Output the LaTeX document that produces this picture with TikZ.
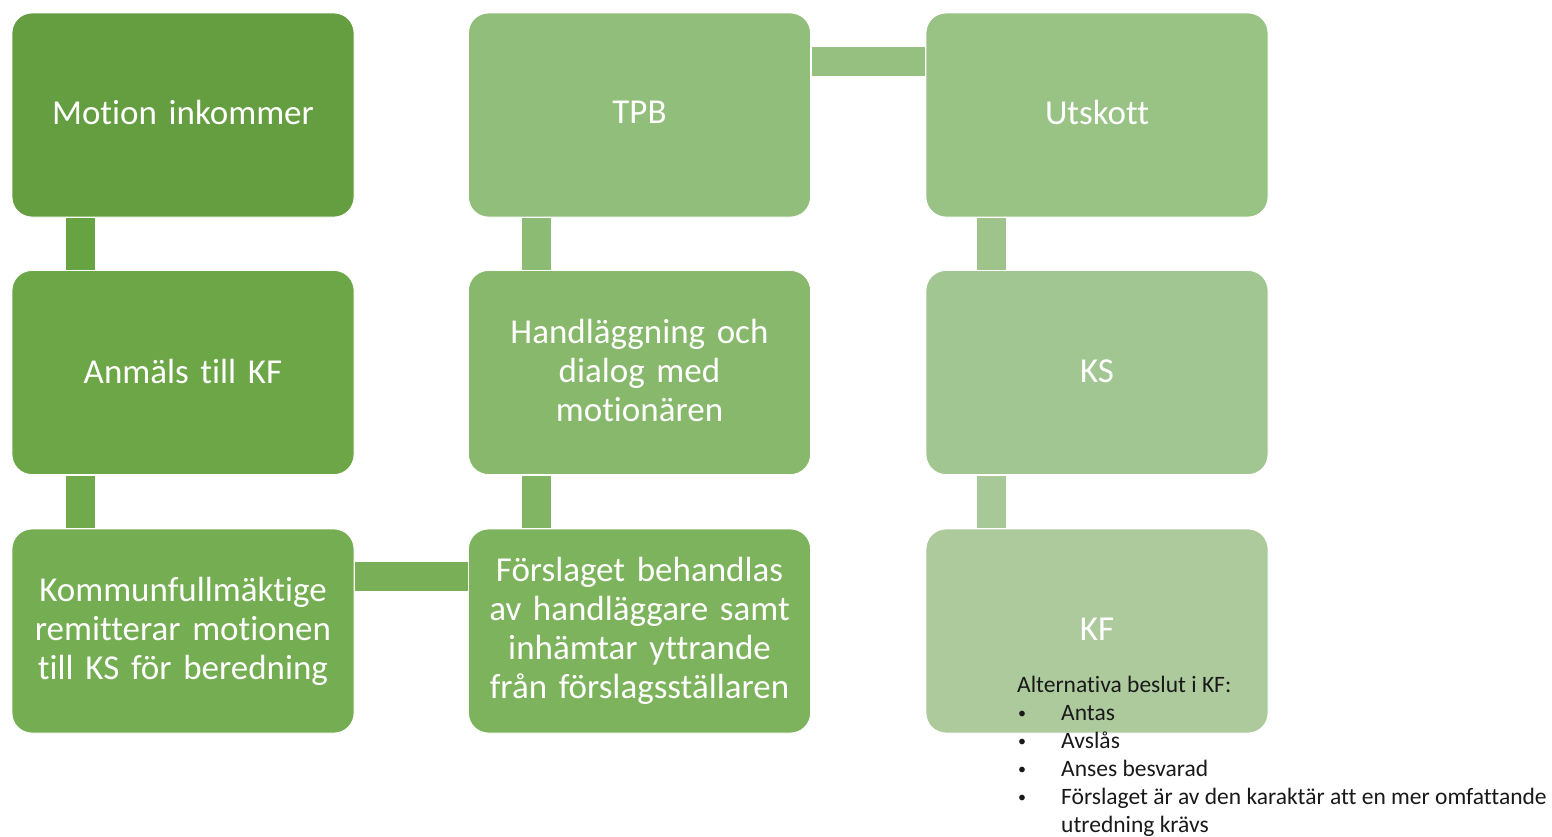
\documentclass[tikz,border=0pt]{standalone}
\usepackage{fontspec}
\setmainfont{Carlito}[Ligatures={NoCommon}]
\usetikzlibrary{calc}
\definecolor{c1}{HTML}{659E40}
\definecolor{c2}{HTML}{6CA647}
\definecolor{c3}{HTML}{74AD52}
\definecolor{c4}{HTML}{7DB35D}
\definecolor{c5}{HTML}{87B86B}
\definecolor{c6}{HTML}{91BE7A}
\definecolor{c7}{HTML}{99C285}
\definecolor{c8}{HTML}{A2C692}
\definecolor{c9}{HTML}{ADCA9D}
\definecolor{k12}{HTML}{67A342}
\definecolor{k23}{HTML}{70AA4C}
\definecolor{k34}{HTML}{78AF57}
\definecolor{k45}{HTML}{82B563}
\definecolor{k56}{HTML}{8CBB73}
\definecolor{k67}{HTML}{96C07F}
\definecolor{k78}{HTML}{9EC48C}
\definecolor{k89}{HTML}{A7C897}
\begin{document}
\begin{tikzpicture}[x=1pt,y=-1pt,
  box/.style={draw=white, line width=0.8pt, rounded corners=20pt, minimum width=342pt, minimum height=204pt,
    text width=320pt, align=center, text=white, inner sep=0pt,
    font=\fontsize{35}{39}\selectfont},
  bar/.style={draw=white, line width=0.8pt},
  small/.style={anchor=base west, inner sep=0pt, font=\fontsize{23.5}{28}\selectfont, text=black!90},
  dot/.style={anchor=base west, inner sep=0pt, font=\fontsize{16}{28}\selectfont, text=black!90}]
\useasboundingbox (0,0) rectangle (1552,836);
\node[box, fill=c1] (b1) at (183,115) {\raisebox{5pt}{Motion inkommer}};
\node[box, fill=c2] (b2) at (183,372.5) {\raisebox{3pt}{Anmäls till KF}};
\node[box, fill=c3] (b3) at (183,631) {Kommunfullmäktige\\remitterar motionen\\till KS för beredning};
\node[box, fill=c4] (b4) at (639.5,631) {Förslaget behandlas\\av handläggare samt\\inhämtar yttrande\\från förslagsställaren};
\node[box, fill=c5] (b5) at (639.5,372.5) {Handläggning och\\dialog med\\motionären\vspace{4pt}};
\node[box, fill=c6] (b6) at (639.5,115) {\raisebox{5pt}{TPB}};
\node[box, fill=c7] (b7) at (1097,115) {\raisebox{5pt}{Utskott}};
\node[box, fill=c8] (b8) at (1097,372.5) {\raisebox{3pt}{KS}};
\node[box, fill=c9] (b9) at (1097,631) {\raisebox{3pt}{KF}};
% connectors
\filldraw[bar, fill=k12] ($(b1.south west)+(54,0)$) rectangle ($(b2.north west)+(84,0)$);
\filldraw[bar, fill=k23] ($(b2.south west)+(54,0)$) rectangle ($(b3.north west)+(84,0)$);
\filldraw[bar, fill=k34] ($(b3.north east)+(0,33)$) rectangle ($(b4.north west)+(0,63)$);
\filldraw[bar, fill=k45] ($(b4.north west)+(53,0)$) rectangle ($(b5.south west)+(83,0)$);
\filldraw[bar, fill=k56] ($(b5.north west)+(53,0)$) rectangle ($(b6.south west)+(83,0)$);
\filldraw[bar, fill=k67] ($(b6.north east)+(0,34)$) rectangle ($(b7.north west)+(0,64)$);
\filldraw[bar, fill=k78] ($(b7.south west)+(51,0)$) rectangle ($(b8.north west)+(81,0)$);
\filldraw[bar, fill=k89] ($(b8.south west)+(51,0)$) rectangle ($(b9.north west)+(81,0)$);
% list
\node[small] (t0) at (1017,692) {Alternativa beslut i KF:};
\node[dot] (p1) at (1018,718) {\textbullet};
\node[small] (t1) at (1061,720) {Antas};
\node[dot] (p2) at (1018,746) {\textbullet};
\node[small] (t2) at (1061,748) {Avslås};
\node[dot] (p3) at (1018,774) {\textbullet};
\node[small] (t3) at (1061,776) {Anses besvarad};
\node[dot] (p4) at (1018,802) {\textbullet};
\node[small] (t4) at (1061,804) {Förslaget är av den karaktär att en mer omfattande};
\node[small] (t5) at (1061,832) {utredning krävs};
\end{tikzpicture}
\end{document}
